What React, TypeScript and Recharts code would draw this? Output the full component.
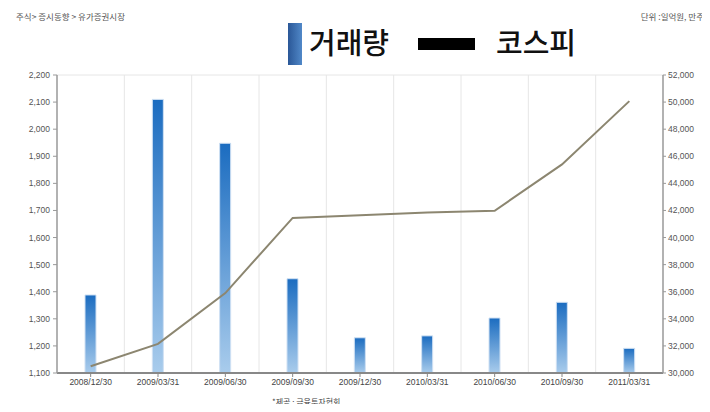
import React from 'react';
import { ComposedChart, Bar, Line, XAxis, YAxis, CartesianGrid } from 'recharts';

const dates = ['2008/12/30', '2009/03/31', '2009/06/30', '2009/09/30', '2009/12/30', '2010/03/31', '2010/06/30', '2010/09/30', '2011/03/31'];
const volume = [1388, 2110, 1948, 1448, 1230, 1237, 1303, 1361, 1191];
const kospi = [30500, 32150, 35900, 41450, 41650, 41850, 41980, 45400, 50070];

const leftTicks = [1100, 1200, 1300, 1400, 1500, 1600, 1700, 1800, 1900, 2000, 2100, 2200];
const rightTicks = [30000, 32000, 34000, 36000, 38000, 40000, 42000, 44000, 46000, 48000, 50000, 52000];

const data = dates.map((d, i) => ({ date: d, volume: volume[i], kospi: kospi[i] }));

const fmt = (v: number) => v.toLocaleString('en-US');
const tickFont = { fontSize: 8.5, fill: '#555', fontFamily: 'Liberation Sans, Arial, sans-serif' };
const smallKr: React.CSSProperties = {
    position: 'absolute',
    fontFamily: '"Noto Sans CJK KR", sans-serif',
    fontSize: 8.5,
    color: '#555',
    whiteSpace: 'nowrap',
    lineHeight: 1,
    zIndex: 2,
};

export default function App() {
    return (
        <div style={{ position: 'relative', margin: -8, width: 710, height: 412, background: '#fff', overflow: 'hidden' }}>
            {/* frame */}
            <div style={{ position: 'absolute', left: 6, top: 3, width: 704, height: 409, borderLeft: '2px solid #ddd', borderTop: '2px solid #ddd' }} />

            <div style={{ position: 'absolute', left: 0, top: 0, zIndex: 1 }}>
                <ComposedChart width={710} height={412} data={data} margin={{ top: 75, right: 0, bottom: 19, left: 0 }}>
                    <defs>
                        <linearGradient id="barGrad" x1="0" y1="0" x2="0" y2="1">
                            <stop offset="0%" stopColor="#1b6cc0" />
                            <stop offset="100%" stopColor="#a9ccec" />
                        </linearGradient>
                    </defs>
                    <CartesianGrid
                        stroke="#e6e6e6"
                        verticalCoordinatesGenerator={({ offset }: any) =>
                            dates.slice(1).map((_, i) => offset.left + ((i + 1) * offset.width) / dates.length)
                        }
                    />
                    <XAxis
                        dataKey="date"
                        height={20}
                        tick={{ ...tickFont, fill: '#444' }}
                        tickSize={4}
                        tickMargin={2}
                        axisLine={{ stroke: '#888', strokeWidth: 2 }}
                        tickLine={{ stroke: '#888' }}
                        interval={0}
                    />
                    <YAxis
                        yAxisId="left"
                        width={57}
                        domain={[1100, 2200]}
                        ticks={leftTicks}
                        tickFormatter={fmt}
                        tick={tickFont}
                        tickSize={4}
                        tickMargin={3}
                        axisLine={{ stroke: '#999', strokeWidth: 1.5 }}
                        tickLine={{ stroke: '#999' }}
                        allowDataOverflow
                    />
                    <YAxis
                        yAxisId="right"
                        orientation="right"
                        width={47}
                        domain={[30000, 52000]}
                        ticks={rightTicks}
                        tickFormatter={fmt}
                        tick={tickFont}
                        tickSize={3}
                        tickMargin={2}
                        axisLine={{ stroke: '#999', strokeWidth: 1.5 }}
                        tickLine={{ stroke: '#999' }}
                        allowDataOverflow
                    />
                    <Bar
                        yAxisId="left"
                        dataKey="volume"
                        barSize={11}
                        fill="url(#barGrad)"
                        stroke="#cfe0f3"
                        strokeWidth={1}
                        isAnimationActive={false}
                    />
                    <Line
                        yAxisId="right"
                        dataKey="kospi"
                        type="linear"
                        stroke="#8c8670"
                        strokeWidth={2}
                        dot={false}
                        activeDot={false}
                        isAnimationActive={false}
                    />
                </ComposedChart>
            </div>

            <div style={{ ...smallKr, left: 16, top: 12 }}>주식&gt; 증시동향 &gt; 유가증권시장</div>
            <div style={{ ...smallKr, right: 6, top: 12 }}>단위 :일억원, 만주</div>

            {/* legend */}
            <div style={{ position: 'absolute', zIndex: 2, left: 288, top: 23, width: 14, height: 42, background: 'linear-gradient(to right, #2a5797, #5088c8)' }} />
            <div style={{ position: 'absolute', zIndex: 2, left: 309, top: 27, fontFamily: '"Noto Sans CJK KR", sans-serif', fontSize: 29, fontWeight: 500, lineHeight: 1, color: '#111' }}>거래량</div>
            <div style={{ position: 'absolute', zIndex: 2, left: 418, top: 38, width: 57, height: 12, background: '#000' }} />
            <div style={{ position: 'absolute', zIndex: 2, left: 496, top: 27, fontFamily: '"Noto Sans CJK KR", sans-serif', fontSize: 29, fontWeight: 500, lineHeight: 1, color: '#111' }}>코스피</div>

            <div style={{ ...smallKr, left: 272, top: 398, fontSize: 8, color: '#444' }}>*제공 : 금융투자협회</div>
        </div>
    );
}
